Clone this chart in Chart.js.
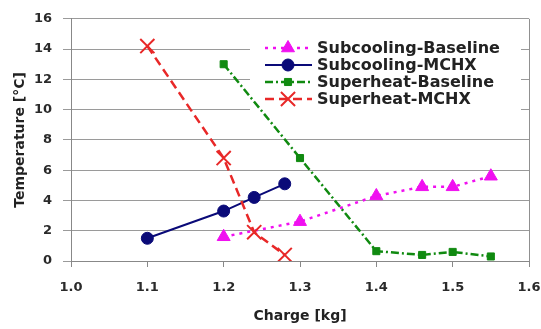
<!DOCTYPE html>
<html>
<head>
<meta charset="utf-8">
<script src="https://cdn.jsdelivr.net/npm/chart.js@4.4.0/dist/chart.umd.min.js"></script>
<style>
html,body{margin:0;padding:0;background:#fff}
#wrap{width:541px;height:329px}
</style>
</head>
<body>
<div id="wrap"><canvas id="chart" width="541" height="329"></canvas></div>
<script>
// values
const seriesNames=['Subcooling-Baseline','Subcooling-MCHX','Superheat-Baseline','Superheat-MCHX'];
const subBaseX=[1.2,1.3,1.4,1.46,1.5,1.55];
const subBaseY=[1.6,2.6,4.3,4.9,4.9,5.6];
const subMchxX=[1.1,1.2,1.24,1.28];
const subMchxY=[1.5,3.3,4.2,5.1];
const supBaseX=[1.2,1.3,1.4,1.46,1.5,1.55];
const supBaseY=[13.0,6.8,0.65,0.4,0.6,0.3];
const supMchxX=[1.1,1.2,1.24,1.28];
const supMchxY=[14.2,6.8,1.9,0.4];
const xTickLabels=['1.0','1.1','1.2','1.3','1.4','1.5','1.6'];
const yTickLabels=['0','2','4','6','8','10','12','14','16'];
const xTitle='Charge [kg]';
const yTitle='Temperature [°C]';

const FONT='"DejaVu Sans", sans-serif';

function pts(xs,ys){return xs.map((x,i)=>({x:x,y:ys[i]}));}

const datasets=[
 {label:seriesNames[0],data:pts(subBaseX,subBaseY),borderColor:'#f010f0',backgroundColor:'#f010f0',
  borderWidth:2.5,borderDash:[3,5],pointStyle:'triangle',pointRadius:7.5,pointBorderWidth:1,order:3},
 {label:seriesNames[1],data:pts(subMchxX,subMchxY),borderColor:'#0a0a78',backgroundColor:'#0a0a78',
  borderWidth:2,borderDash:[],pointStyle:'circle',pointRadius:6,pointBorderWidth:1,order:2},
 {label:seriesNames[2],data:pts(supBaseX,supBaseY),borderColor:'#108a10',backgroundColor:'#108a10',
  borderWidth:2.5,borderDash:[8,3,2,3],pointStyle:'rect',pointRadius:5,pointBorderWidth:1,order:1},
 {label:seriesNames[3],data:pts(supMchxX,supMchxY),borderColor:'#e82828',backgroundColor:'#e82828',
  borderWidth:2.5,borderDash:[9,5],pointStyle:'crossRot',pointRadius:10,pointBorderWidth:2,order:0}
];

// frame + white legend box under the lines, legend entries on top
const frameLegend={
 id:'frameLegend',
 beforeDatasetsDraw(c){
  const a=c.chartArea,ctx=c.ctx;
  ctx.save();
  ctx.fillStyle='#fff';
  ctx.fillRect(250,33,271,85);
  ctx.strokeStyle='#909090';ctx.lineWidth=1;
  ctx.beginPath();ctx.moveTo(a.right+0.5,a.top);ctx.lineTo(a.right+0.5,a.bottom);ctx.stroke();
  ctx.restore();
 },
 afterDatasetsDraw(c){
  const ctx=c.ctx;
  const rows=[48,65,82,99];
  ctx.save();
  c.data.datasets.forEach((d,i)=>{
   const y=rows[i];
   ctx.strokeStyle=d.borderColor;ctx.lineWidth=d.borderWidth;
   ctx.setLineDash(d.borderDash||[]);
   ctx.beginPath();ctx.moveTo(265,y);ctx.lineTo(312,y);ctx.stroke();
   ctx.setLineDash([]);
   ctx.fillStyle=d.backgroundColor;ctx.strokeStyle=d.borderColor;
   ctx.lineWidth=d.pointBorderWidth;
   Chart.helpers.drawPoint(ctx,{pointStyle:d.pointStyle,radius:d.pointRadius,rotation:0,borderWidth:d.pointBorderWidth},288,y);
   ctx.fillStyle='#222';
   ctx.font='bold 16px '+FONT;
   ctx.textBaseline='middle';ctx.textAlign='left';
   ctx.fillText(d.label,317,y+1);
  });
  ctx.restore();
 }
};

new Chart(document.getElementById('chart'),{
 type:'line',
 data:{datasets:datasets},
 options:{
  responsive:false,animation:false,
  layout:{padding:{left:0,top:18,right:12,bottom:0}},
  plugins:{legend:{display:false},tooltip:{enabled:false}},
  elements:{line:{tension:0,fill:false}},
  scales:{
   x:{type:'linear',min:1.0,max:1.6,
    afterBuildTicks(s){s.ticks=xTickLabels.map(v=>({value:parseFloat(v)}));},
    afterFit(s){s.height=68;s.paddingRight=12;s.paddingLeft=0;},
    ticks:{callback:(v,i)=>xTickLabels[i],color:'#2a2a2a',padding:13,maxRotation:0,
     font:{family:FONT,size:13,weight:'bold'}},
    grid:{drawOnChartArea:false,drawTicks:true,tickLength:6,color:'#888'},
    border:{color:'#888',width:1},
    title:{display:true,text:xTitle,color:'#222',padding:{top:0,bottom:4},
     font:{family:FONT,size:14,weight:'bold'}}
   },
   y:{type:'linear',min:0,max:16,
    afterBuildTicks(s){s.ticks=yTickLabels.map(v=>({value:parseFloat(v)}));},
    afterFit(s){s.width=71;},
    ticks:{callback:(v,i)=>yTickLabels[i],color:'#2a2a2a',padding:11,
     font:{family:FONT,size:13,weight:'bold'}},
    grid:{color:'#9a9a9a',lineWidth:1,tickLength:8},
    border:{color:'#888',width:1},
    title:{display:true,text:yTitle,color:'#222',padding:{top:12,bottom:0},
     font:{family:FONT,size:14,weight:'bold'}}
   }
  }
 },
 plugins:[frameLegend]
});
</script>
</body>
</html>
